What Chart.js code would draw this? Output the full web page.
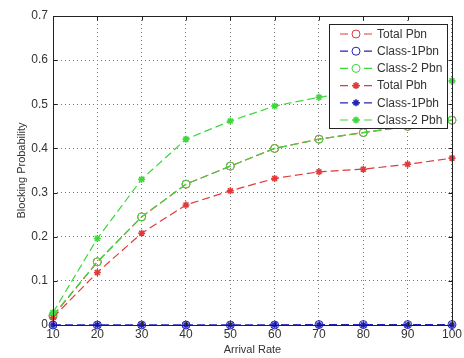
<!DOCTYPE html>
<html>
<head>
<meta charset="utf-8">
<script src="https://cdn.jsdelivr.net/npm/chart.js@4"></script>
<style>
  html, body { margin: 0; padding: 0; background: #fff; }
  #wrap { width: 464px; height: 358px; }
</style>
</head>
<body>
<div id="wrap"><canvas id="c" width="464" height="358"></canvas></div>
<script>
// Arrival rates on the x axis
const arrivalRates = [10, 20, 30, 40, 50, 60, 70, 80, 90, 100];

// Blocking probabilities (new calls: Pbn, handoff calls: Pbh)
const totalPbn  = [0.020, 0.143, 0.245, 0.319, 0.360, 0.400, 0.421, 0.436, 0.450, 0.464];
const class1Pbn = [0.000, 0.000, 0.000, 0.000, 0.000, 0.000, 0.001, 0.001, 0.001, 0.001];
const class2Pbn = [0.022, 0.143, 0.245, 0.319, 0.360, 0.400, 0.421, 0.436, 0.450, 0.464];
const totalPbh  = [0.017, 0.119, 0.208, 0.272, 0.304, 0.332, 0.347, 0.353, 0.364, 0.378];
const class1Pbh = [0.000, 0.000, 0.000, 0.000, 0.000, 0.000, 0.000, 0.000, 0.000, 0.000];
const class2Pbh = [0.028, 0.196, 0.330, 0.421, 0.462, 0.496, 0.516, 0.530, 0.542, 0.553];

const xTicks = [10, 20, 30, 40, 50, 60, 70, 80, 90, 100];
const yTicks = [0, 0.1, 0.2, 0.3, 0.4, 0.5, 0.6, 0.7];

const seriesNames = ['Total Pbn', 'Class-1Pbn', 'Class-2 Pbn', 'Total Pbh', 'Class-1Pbh', 'Class-2 Pbh'];
const seriesData = [totalPbn, class1Pbn, class2Pbn, totalPbh, class1Pbh, class2Pbh];

const RED = '#e03a3a', BLUE = '#2424b4', GREEN = '#3cd83c';
const seriesColors = [RED, BLUE, GREEN, RED, BLUE, GREEN];
const seriesMarkers = ['circle', 'circle', 'circle', 'star', 'star', 'star'];

const FONT = '"Liberation Sans", Arial, sans-serif';
const TEXT = '#333333';
const DASH = [8, 4];

const datasets = seriesData.map((vals, i) => ({
  label: seriesNames[i],
  data: vals.map((v, k) => ({ x: arrivalRates[k], y: v })),
  borderColor: seriesColors[i],
  backgroundColor: 'rgba(0,0,0,0)',
  borderWidth: 1.2,
  borderDash: DASH,
  pointStyle: seriesMarkers[i],
  pointRadius: seriesMarkers[i] === 'circle' ? 4 : 3.5,
  pointBorderColor: seriesColors[i],
  pointBackgroundColor: 'rgba(0,0,0,0)',
  pointBorderWidth: seriesMarkers[i] === 'circle' ? 1 : 1.6,
  tension: 0,
  clip: 8,
  order: seriesData.length - i
}));

// Box frame, inward tick marks and a MATLAB-style legend
const framePlugin = {
  id: 'frame',
  afterDatasetsDraw(chart) {
    const { ctx, chartArea: a, scales } = chart;
    ctx.save();
    ctx.strokeStyle = '#222';
    ctx.lineWidth = 1;
    ctx.setLineDash([]);
    const L = Math.round(a.left) + 0.5, R = Math.round(a.right) + 0.5;
    const T = Math.round(a.top) + 0.5, B = Math.round(a.bottom) + 0.5;
    ctx.strokeRect(L, T, R - L, B - T);
    const tl = 4;
    ctx.beginPath();
    xTicks.forEach(v => {
      const x = Math.round(scales.x.getPixelForValue(v)) + 0.5;
      ctx.moveTo(x, B); ctx.lineTo(x, B - tl);
      ctx.moveTo(x, T); ctx.lineTo(x, T + tl);
    });
    yTicks.forEach(v => {
      const y = Math.round(scales.y.getPixelForValue(v)) + 0.5;
      ctx.moveTo(L, y); ctx.lineTo(L + tl, y);
      ctx.moveTo(R, y); ctx.lineTo(R - tl, y);
    });
    ctx.stroke();

    // legend
    const lx = 329.5, ly = 24.5, lw = 118, lh = 104;
    ctx.fillStyle = '#fff';
    ctx.fillRect(lx, ly, lw, lh);
    ctx.strokeStyle = '#222';
    ctx.strokeRect(lx, ly, lw, lh);
    chart.data.datasets.forEach((ds, i) => {
      const y = 34 + i * 17.2;
      ctx.strokeStyle = ds.borderColor;
      ctx.lineWidth = 1.2;
      ctx.setLineDash(DASH);
      ctx.beginPath();
      ctx.moveTo(340, y); ctx.lineTo(373, y);
      ctx.stroke();
      ctx.setLineDash([]);
      ctx.fillStyle = '#ffffff';
      ctx.strokeStyle = ds.borderColor;
      ctx.lineWidth = ds.pointBorderWidth;
      if (ds.pointStyle === 'circle') {
        ctx.beginPath();
        ctx.arc(356, y, 4, 0, Math.PI * 2);
        ctx.fill();
        ctx.stroke();
      } else {
        Chart.helpers.drawPoint(ctx, {
          pointStyle: ds.pointStyle, radius: 3.5, borderWidth: ds.pointBorderWidth, rotation: 0
        }, 356, y);
      }
      ctx.fillStyle = TEXT;
      ctx.font = '12px ' + FONT;
      ctx.textBaseline = 'middle';
      ctx.textAlign = 'left';
      ctx.fillText(ds.label, 377, y + 0.5);
    });
    ctx.restore();
  }
};

new Chart(document.getElementById('c'), {
  type: 'line',
  data: { datasets },
  options: {
    responsive: false,
    animation: false,
    layout: { padding: { left: 0, top: 16, right: 11, bottom: 0 } },
    plugins: {
      legend: { display: false },
      tooltip: { enabled: false }
    },
    scales: {
      x: {
        type: 'linear',
        min: 10, max: 100,
        afterBuildTicks: s => { s.ticks = xTicks.map(v => ({ value: v })); },
        afterFit: s => { s.height = 33; },
        grid: { color: '#777', lineWidth: 1, drawTicks: false },
        border: { display: false, dash: [1, 3] },
        ticks: {
          color: TEXT, font: { family: FONT, size: 12 }, padding: 2,
          maxRotation: 0, autoSkip: false,
          callback: v => String(v)
        },
        title: {
          display: true, text: 'Arrival Rate', color: TEXT,
          font: { family: FONT, size: 11 }, padding: { top: 0, bottom: 1 }
        }
      },
      y: {
        type: 'linear',
        min: 0, max: 0.7,
        afterBuildTicks: s => { s.ticks = yTicks.map(v => ({ value: v })); },
        afterFit: s => { s.width = 53; },
        grid: { color: '#777', lineWidth: 1, drawTicks: false },
        border: { display: false, dash: [1, 3] },
        ticks: {
          color: TEXT, font: { family: FONT, size: 12 }, padding: 5,
          callback: v => String(Math.round(v * 10) / 10)
        },
        title: {
          display: true, text: 'Blocking Probability', color: TEXT,
          font: { family: FONT, size: 11 }, padding: { top: 15, bottom: 0 }
        }
      }
    }
  },
  plugins: [framePlugin]
});
</script>
</body>
</html>
